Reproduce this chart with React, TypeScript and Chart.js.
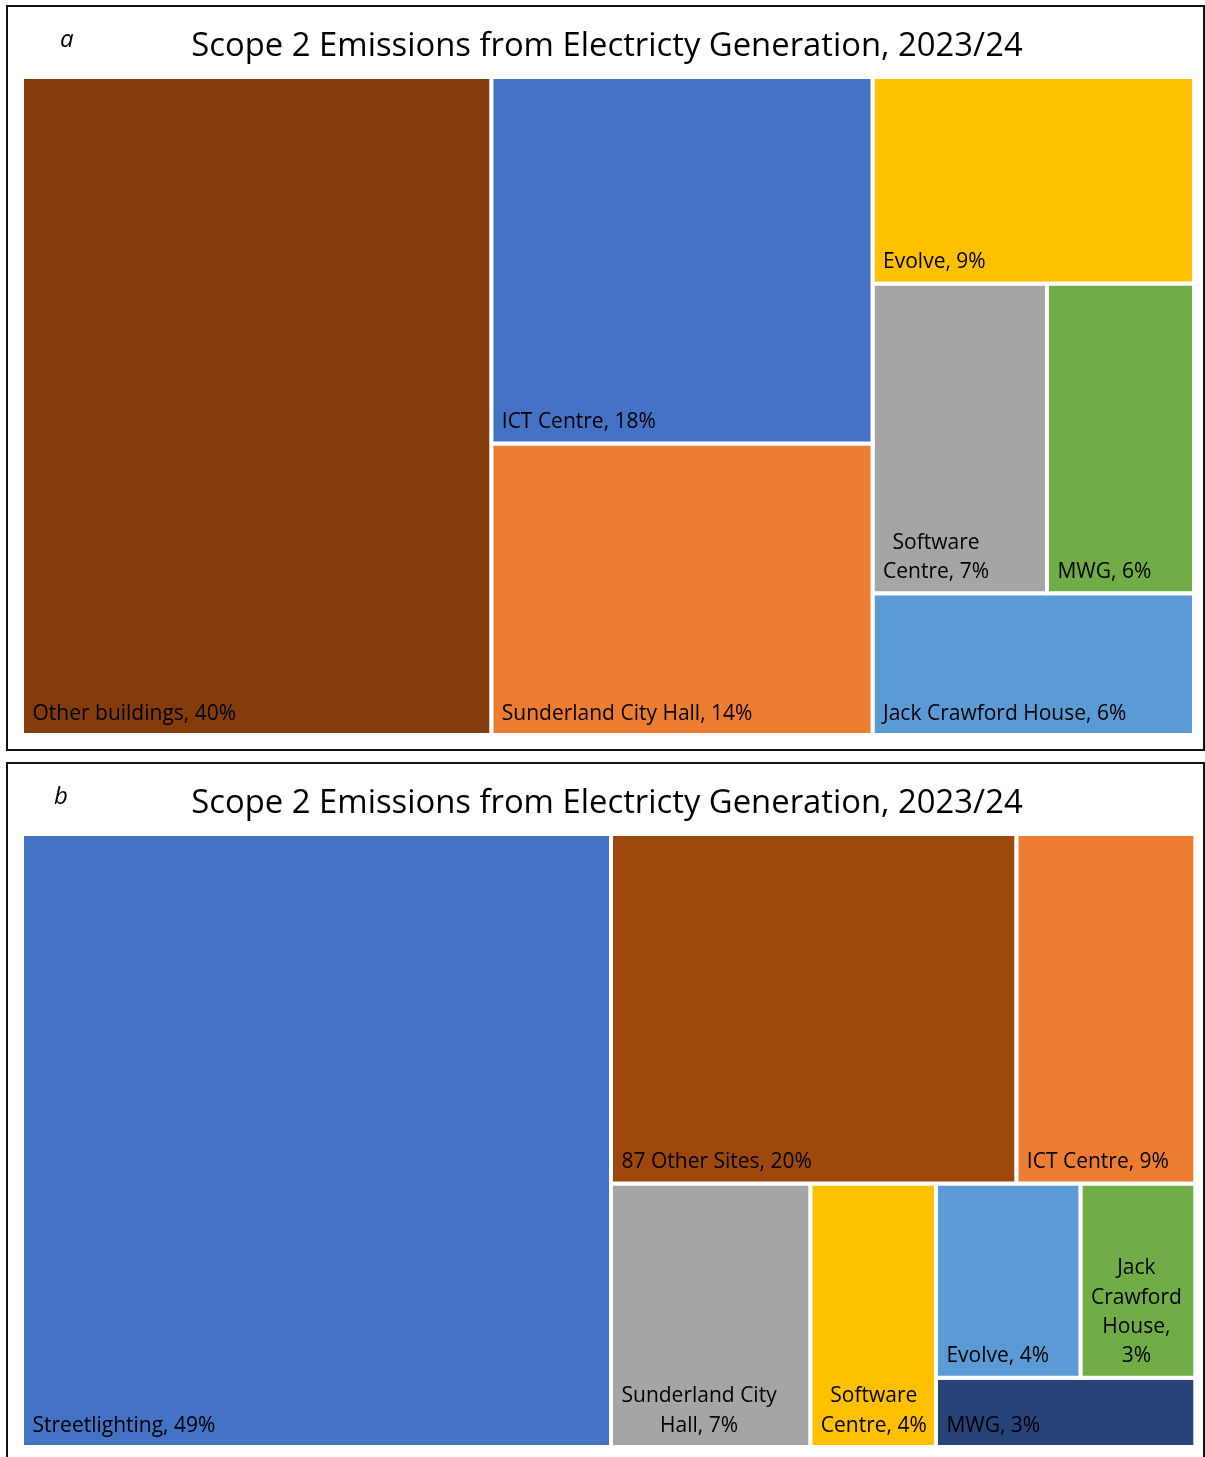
import React, { useEffect, useRef } from 'react';
import { Chart, registerables } from 'chart.js';

Chart.register(...registerables);

// ---------- data ----------
const TITLE = 'Scope 2 Emissions from Electricty Generation, 2023/24';

const labelsA = [
  'Other buildings, 40%',
  'ICT Centre, 18%',
  'Sunderland City Hall, 14%',
  'Evolve, 9%',
  'Software\nCentre, 7%',
  'MWG, 6%',
  'Jack Crawford House, 6%',
];
const valuesA = [40.0, 18.1, 14.4, 8.6, 7.0, 5.9, 5.9];
const colorsA = ['#843C0C', '#4472C4', '#ED7D31', '#FFC000', '#A5A5A5', '#70AD47', '#5B9BD5'];
// nesting of the treemap (indices into the arrays above)
const treeA = { dir: 'row', items: [0, { dir: 'col', items: [1, 2] }, { dir: 'col', items: [3, { dir: 'row', items: [4, 5] }, 6] }] };

const labelsB = [
  'Streetlighting, 49%',
  '87 Other Sites, 20%',
  'ICT Centre, 9%',
  'Sunderland City\nHall, 7%',
  'Software\nCentre, 4%',
  'Evolve, 4%',
  'Jack\nCrawford\nHouse,\n3%',
  'MWG, 3%',
];
const valuesB = [50.2, 19.7, 8.7, 7.3, 4.6, 3.9, 3.1, 2.5];
const colorsB = ['#4472C4', '#9E480E', '#ED7D31', '#A5A5A5', '#FFC000', '#5B9BD5', '#70AD47', '#264478'];
const treeB = {
  dir: 'row',
  items: [
    0,
    {
      dir: 'col',
      items: [
        { dir: 'row', items: [1, 2] },
        { dir: 'row', items: [3, 4, { dir: 'col', items: [{ dir: 'row', items: [5, 6] }, 7] }] },
      ],
    },
  ],
};

// ---------- layout ----------
type TNode = number | { dir: string; items: TNode[] };
type Rect = { x0: number; y0: number; x1: number; y1: number };

function total(n: TNode, vals: number[]): number {
  if (typeof n === 'number') return vals[n];
  return n.items.reduce((s, c) => s + total(c, vals), 0);
}

function layout(n: TNode, vals: number[], r: Rect, out: Rect[]) {
  if (typeof n === 'number') {
    out[n] = r;
    return;
  }
  const t = total(n, vals);
  let pos = n.dir === 'row' ? r.x0 : r.y0;
  for (const c of n.items) {
    const f = total(c, vals) / t;
    if (n.dir === 'row') {
      const w = (r.x1 - r.x0) * f;
      layout(c, vals, { x0: pos, y0: r.y0, x1: pos + w, y1: r.y1 }, out);
      pos += w;
    } else {
      const h = (r.y1 - r.y0) * f;
      layout(c, vals, { x0: r.x0, y0: pos, x1: r.x1, y1: pos + h }, out);
      pos += h;
    }
  }
}

const FONT = '"Open Sans", "Noto Sans", sans-serif';

function makeTextPlugin(rects: Rect[], labels: string[], letter: string, letterX: number) {
  return {
    id: 'treeText',
    afterDatasetsDraw(chart: any) {
      const { ctx } = chart;
      const xs = chart.scales.x;
      const ys = chart.scales.y;
      ctx.save();
      ctx.fillStyle = '#000';
      ctx.textBaseline = 'alphabetic';
      ctx.textAlign = 'center';
      ctx.font = `32.8px ${FONT}`;
      ctx.fillText(TITLE, 607, 56);
      ctx.textAlign = 'left';
      ctx.font = `italic 24px ${FONT}`;
      ctx.fillText(letter, letterX, 47);
      ctx.font = `21px ${FONT}`;
      rects.forEach((r, i) => {
        const left = xs.getPixelForValue(r.x0);
        const bottom = ys.getPixelForValue(r.y1);
        const lines = labels[i].split('\n');
        const widths = lines.map((l) => ctx.measureText(l).width);
        const bw = Math.max(...widths);
        lines.forEach((l, k) => {
          const x = left + 10.5 + (bw - widths[k]) / 2;
          const y = bottom - 15.5 - (lines.length - 1 - k) * 29.3;
          ctx.fillText(l, x, y);
        });
      });
      ctx.restore();
    },
  };
}

function Treemap(props: {
  labels: string[];
  values: number[];
  colors: string[];
  tree: TNode;
  letter: string;
  letterX: number;
  width: number;
  height: number;
  padding: { left: number; right: number; top: number; bottom: number };
}) {
  const ref = useRef<HTMLCanvasElement | null>(null);
  useEffect(() => {
    if (!ref.current) return;
    const rects: Rect[] = [];
    layout(props.tree, props.values, { x0: 0, y0: 0, x1: 1, y1: 1 }, rects);
    const datasets = rects.map((r, i) => ({
      label: props.labels[i],
      data: [
        { x: r.x0, y: r.y0 },
        { x: r.x1, y: r.y0 },
        { x: r.x1, y: r.y1 },
        { x: r.x0, y: r.y1 },
        { x: r.x0, y: r.y0 },
      ],
      showLine: true,
      fill: 'shape',
      backgroundColor: props.colors[i],
      borderColor: '#FFFFFF',
      borderWidth: 4,
      borderJoinStyle: 'miter',
      borderCapStyle: 'square',
      pointRadius: 0,
      pointHoverRadius: 0,
      tension: 0,
      clip: false,
    }));
    const chart = new Chart(ref.current, {
      type: 'scatter',
      data: { datasets } as any,
      options: {
        responsive: false,
        animation: false,
        devicePixelRatio: 1,
        events: [],
        layout: { padding: props.padding },
        scales: {
          x: { type: 'linear', min: 0, max: 1, display: false },
          y: { type: 'linear', min: 0, max: 1, reverse: true, display: false },
        },
        plugins: {
          legend: { display: false },
          tooltip: { enabled: false },
          title: { display: false },
        },
      } as any,
      plugins: [makeTextPlugin(rects, props.labels, props.letter, props.letterX)],
    });
    let alive = true;
    if ((document as any).fonts) {
      (document as any).fonts.load(`20px "Open Sans"`).then(() => {
        if (alive) chart.draw();
      });
    }
    return () => {
      alive = false;
      chart.destroy();
    };
  }, []);
  return (
    <canvas
      ref={ref}
      width={props.width}
      height={props.height}
      style={{ width: props.width, height: props.height, display: 'block' }}
    />
  );
}

export default function App() {
  return (
    <div
      style={{
        position: 'fixed',
        left: 0,
        top: 0,
        width: 1205,
        height: 1457,
        overflow: 'hidden',
        background: '#fff',
      }}
    >
      <div
        style={{
          position: 'absolute',
          left: 6,
          top: 5,
          width: 1199,
          height: 746,
          border: '2px solid #111',
          boxSizing: 'border-box',
        }}
      />
      <div
        style={{
          position: 'absolute',
          left: 6,
          top: 762,
          width: 1199,
          height: 800,
          border: '2px solid #111',
          boxSizing: 'border-box',
        }}
      />
      <div style={{ position: 'absolute', left: 0, top: 0 }}>
        <Treemap
          labels={labelsA}
          values={valuesA}
          colors={colorsA}
          tree={treeA}
          letter="a"
          letterX={60}
          width={1205}
          height={757}
          padding={{ left: 22, right: 11, top: 77, bottom: 22 }}
        />
      </div>
      <div style={{ position: 'absolute', left: 0, top: 757 }}>
        <Treemap
          labels={labelsB}
          values={valuesB}
          colors={colorsB}
          tree={treeB}
          letter="b"
          letterX={54}
          width={1205}
          height={700}
          padding={{ left: 22, right: 9.7, top: 77, bottom: 10 }}
        />
      </div>
    </div>
  );
}
